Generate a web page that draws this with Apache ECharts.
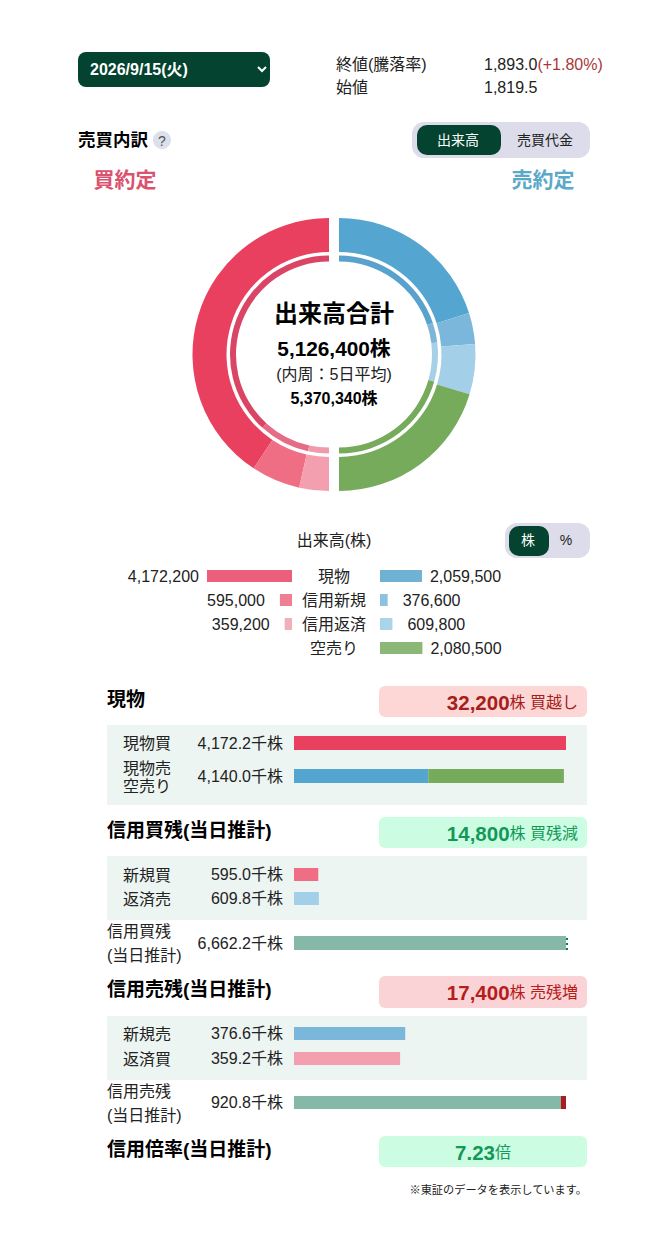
<!DOCTYPE html>
<html>
<head>
<meta charset="utf-8">
<title>売買内訳</title>
<script src="https://cdn.jsdelivr.net/npm/echarts@6/dist/echarts.min.js"></script>
<style>
  html, body { margin: 0; padding: 0; background: #fff; }
  #chart { width: 656px; height: 1240px; }
</style>
</head>
<body>
<div id="chart"></div>
<script>
// 出来高 (株): 外周は当日、内周は5日平均
var buyNames = ['現物', '信用新規', '信用返済'];
var buyToday = [4172200, 595000, 359200];
var buyAvg5 = [4111000, 895000, 364340];
var sellNames = ['現物', '信用新規', '信用返済', '空売り'];
var sellToday = [2059500, 376600, 609800, 2080500];
var sellAvg5 = [2132000, 347000, 683000, 2208340];

// 内訳の横棒 (千株)
var spotBuy = [4172.2];
var spotSell = [2059.5, 2080.5];
var spotMax = 4172.2;
var marginBuyRows = [595.0, 609.8];
var marginBuyBalance = [6662.2, 14.8]; // 残, 減少分
var marginBuyMax = 6711;
var marginSellRows = [376.6, 359.2];
var marginSellBalance = [903.4, 17.4]; // 残, 増加分
var marginSellMax = 920.8;

var FONT = '"Liberation Sans", "Noto Sans CJK JP", sans-serif';
var GREEN = '#04432f';
var RED = ['#e8405e', '#f06e84', '#f49faf'];
var BLUE = ['#54a5d0', '#7ab7db', '#a3d0e8', '#76ab5c'];
var RED_IN = ['#da4565', '#e66c86', '#f09bad'];
var BLUE_IN = ['#58a2cd', '#7fb6d8', '#a6cfe8', '#76ab5c'];
var RED_LG = ['#ec5f7a', '#ef8093', '#f3aebb'];
var BLUE_LG = ['#6eb2d6', '#8cc2e0', '#acd4e9', '#8cb877'];

var chart = echarts.init(document.getElementById('chart'), null, { renderer: 'svg' });

function fmt(v, d) {
  return v.toLocaleString('en-US', { minimumFractionDigits: d, maximumFractionDigits: d });
}

// graphic helpers
function box(x, y, w, h, r, fill) {
  return { type: 'rect', z: -1, silent: true, shape: { x: x, y: y, width: w, height: h, r: r }, style: { fill: fill } };
}
function txt(x, y, text, size, opt) {
  opt = opt || {};
  return {
    type: 'text', z: 5, silent: true,
    style: {
      x: x, y: y, text: text, fontSize: size, fontFamily: FONT,
      fontWeight: opt.bold ? 'bold' : 'normal',
      fill: opt.color || '#222',
      align: opt.align || 'left', verticalAlign: 'middle',
      rich: opt.rich
    }
  };
}
function badgeRich(color) {
  return {
    a: { fontSize: 20.5, fontWeight: 'bold', fill: color, fontFamily: FONT },
    b: { fontSize: 16, fill: color, fontFamily: FONT }
  };
}

var graphic = [
  // 日付セレクト
  box(78, 52, 192, 35, 8, GREEN),
  txt(90, 69, '2026/9/15(火)', 16, { bold: true, color: '#fff' }),
  { type: 'polyline', z: 5, silent: true, shape: { points: [[258, 67], [262, 71], [266, 67]] }, style: { stroke: '#fff', lineWidth: 2, fill: 'none' } },
  txt(336, 64, '終値(騰落率)', 16),
  txt(336, 87, '始値', 16),
  txt(484, 64, '{p|1,893.0}{c|(+1.80%)}', 16, { rich: {
    p: { fontSize: 16, fill: '#222', fontFamily: FONT },
    c: { fontSize: 16, fill: '#a8383c', fontFamily: FONT }
  } }),
  txt(484, 87, '1,819.5', 16),

  txt(78, 140, '売買内訳', 17.5, { bold: true, color: '#000' }),
  { type: 'circle', z: -1, silent: true, shape: { cx: 162, cy: 140, r: 9 }, style: { fill: '#dcdfec' } },
  txt(162, 141, '?', 14, { align: 'center', color: '#555' }),

  box(412, 122, 178, 36, 12, '#dcdcea'),
  box(417, 125, 84, 30, 10, GREEN),
  txt(458, 140, '出来高', 14, { align: 'center', color: '#fff' }),
  txt(545, 140, '売買代金', 14, { align: 'center' }),

  txt(125, 179, '買約定', 21, { bold: true, align: 'center', color: '#d9536f' }),
  txt(543, 179, '売約定', 21, { bold: true, align: 'center', color: '#5ba9c9' }),

  // ドーナツ中央
  txt(334, 313, '出来高合計', 24, { bold: true, align: 'center', color: '#000' }),
  txt(334, 348, '5,126,400株', 20.8, { bold: true, align: 'center', color: '#000' }),
  txt(334, 374, '(内周：5日平均)', 16, { align: 'center' }),
  txt(334, 398, '5,370,340株', 16, { bold: true, align: 'center', color: '#000' }),

  txt(334, 540, '出来高(株)', 16, { align: 'center' }),
  box(505, 523, 85, 35, 12, '#dcdcea'),
  box(509, 526, 40, 30, 10, GREEN),
  txt(528, 540, '株', 14, { align: 'center', color: '#fff' }),
  txt(566, 540, '%', 14, { align: 'center' }),

  // 現物
  txt(107, 699, '現物', 19, { bold: true, color: '#000' }),
  box(379, 686, 208, 31, 6, '#fdd7d5'),
  txt(578, 702, '{a|32,200}{b|株 買越し}', 16, { align: 'right', rich: badgeRich('#a5201b') }),
  box(107, 725, 480, 80, 0, '#edf5f2'),
  txt(123, 743, '現物買', 16),
  txt(123, 768, '現物売', 16),
  txt(123, 786, '空売り', 16),

  // 信用買残
  txt(107, 830, '信用買残(当日推計)', 19, { bold: true, color: '#000' }),
  box(379, 817, 208, 31, 6, '#ccfde3'),
  txt(578, 833, '{a|14,800}{b|株 買残減}', 16, { align: 'right', rich: badgeRich('#12995a') }),
  box(107, 856, 480, 64, 0, '#edf5f2'),
  txt(123, 875, '新規買', 16),
  txt(123, 899, '返済売', 16),
  txt(107, 931, '信用買残', 16),
  txt(107, 955, '(当日推計)', 16),

  // 信用売残
  txt(107, 989, '信用売残(当日推計)', 19, { bold: true, color: '#000' }),
  box(379, 976, 208, 32, 6, '#f9d3d5'),
  txt(578, 992, '{a|17,400}{b|株 売残増}', 16, { align: 'right', rich: badgeRich('#b71c1c') }),
  box(107, 1016, 480, 64, 0, '#edf5f2'),
  txt(123, 1034, '新規売', 16),
  txt(123, 1059, '返済買', 16),
  txt(107, 1091, '信用売残', 16),
  txt(107, 1115, '(当日推計)', 16),

  // 信用倍率
  txt(107, 1149, '信用倍率(当日推計)', 19, { bold: true, color: '#000' }),
  box(379, 1136, 208, 31, 6, '#ccfde3'),
  txt(483, 1152, '{a|7.23}{b|倍}', 16, { align: 'center', rich: badgeRich('#12995a') }),

  txt(587, 1190, '※東証のデータを表示しています。', 11.2, { align: 'right' })
];

function halfPie(cx, radius, names, values, colors, clockwise) {
  return {
    type: 'pie',
    center: [cx, 354.5],
    radius: radius,
    startAngle: 90,
    endAngle: clockwise ? -90 : 270,
    clockwise: clockwise,
    silent: true,
    label: { show: false },
    labelLine: { show: false },
    data: values.map(function (v, i) {
      return { name: names[i], value: v, itemStyle: { color: colors[i] } };
    })
  };
}

var grids = [];
var xAxes = [];
var yAxes = [];
var series = [
  halfPie(329, [102.5, 136.5], buyNames, buyToday, RED, false),
  halfPie(339, [102.5, 136.5], sellNames, sellToday, BLUE, true),
  halfPie(329, [93, 99], buyNames, buyAvg5, RED_IN, false),
  halfPie(339, [93, 99], sellNames, sellAvg5, BLUE_IN, true)
];

// 中央ラベルの左右に伸びる出来高の棒
function addButterfly(left, inverse, values, colors, showNames) {
  var idx = grids.length;
  grids.push({ left: left, top: 564, width: 85, height: 96 });
  xAxes.push({ gridIndex: idx, type: 'value', show: false, min: 0, max: buyToday[0], inverse: inverse });
  yAxes.push({
    gridIndex: idx, type: 'category', inverse: true, data: sellNames,
    axisLine: { show: false }, axisTick: { show: false },
    axisLabel: { show: showNames, align: 'center', margin: 46, fontSize: 16, color: '#222', fontFamily: FONT }
  });
  series.push({
    type: 'bar', xAxisIndex: idx, yAxisIndex: idx, barWidth: 12, silent: true,
    data: values.map(function (v, i) {
      return {
        value: v,
        itemStyle: { color: colors[i] },
        label: {
          show: true, position: inverse ? 'left' : 'right',
          distance: v >= 1000000 ? 8 : 15,
          fontSize: 16, color: '#222', fontFamily: FONT,
          formatter: fmt(v, 0)
        }
      };
    })
  });
}
addButterfly(207, true, buyToday, RED_LG, false);
addButterfly(380, false, sellToday, BLUE_LG, true);

// 1行ぶんの横棒。parts は積み上げる値、label は千株の表示
function addRow(top, height, max, width, label, parts, colors, extra) {
  var idx = grids.length;
  grids.push({ left: 294, top: top, width: width, height: height });
  xAxes.push({ gridIndex: idx, type: 'value', show: false, min: 0, max: max });
  yAxes.push({
    gridIndex: idx, type: 'category', data: [fmt(label, 1) + '千株'],
    axisLine: { show: false }, axisTick: { show: false },
    axisLabel: { margin: 11, fontSize: 16, color: '#222', fontFamily: FONT }
  });
  parts.forEach(function (v, i) {
    var s = {
      type: 'bar', stack: 'row' + idx, xAxisIndex: idx, yAxisIndex: idx, barWidth: height, silent: true,
      itemStyle: { color: colors[i] }, data: [v]
    };
    if (extra && i === parts.length - 1) {
      for (var k in extra) s[k] = extra[k];
    }
    series.push(s);
  });
}

addRow(736, 14, spotMax, 272, spotBuy[0], spotBuy, [RED[0]]);
addRow(769, 14, spotMax, 272, spotSell[0] + spotSell[1], spotSell, [BLUE[0], BLUE[3]]);
addRow(868, 13, marginBuyMax, 274, marginBuyRows[0], [marginBuyRows[0]], [RED[1]]);
addRow(892, 13, marginBuyMax, 274, marginBuyRows[1], [marginBuyRows[1]], [BLUE[2]]);
addRow(936, 14, marginBuyMax, 274, marginBuyBalance[0], marginBuyBalance, ['#85b8a9', '#0f7b5a'], {
  barMinHeight: 2,
  itemStyle: {
    color: '#0f7b5a',
    decal: { symbol: 'rect', color: '#ffffff', dashArrayX: [1, 0], dashArrayY: [3, 2], rotation: 0, symbolSize: 1 }
  }
});
addRow(1027, 13, marginSellMax, 272, marginSellRows[0], [marginSellRows[0]], [BLUE[1]]);
addRow(1052, 13, marginSellMax, 272, marginSellRows[1], [marginSellRows[1]], [RED[2]]);
addRow(1096, 13, marginSellMax, 272, marginSellBalance[0] + marginSellBalance[1], marginSellBalance, ['#85b8a9', '#a81d1d']);

chart.setOption({
  animation: false,
  backgroundColor: '#fff',
  textStyle: { fontFamily: FONT },
  grid: grids,
  xAxis: xAxes,
  yAxis: yAxes,
  series: series,
  graphic: graphic
});
</script>
</body>
</html>
